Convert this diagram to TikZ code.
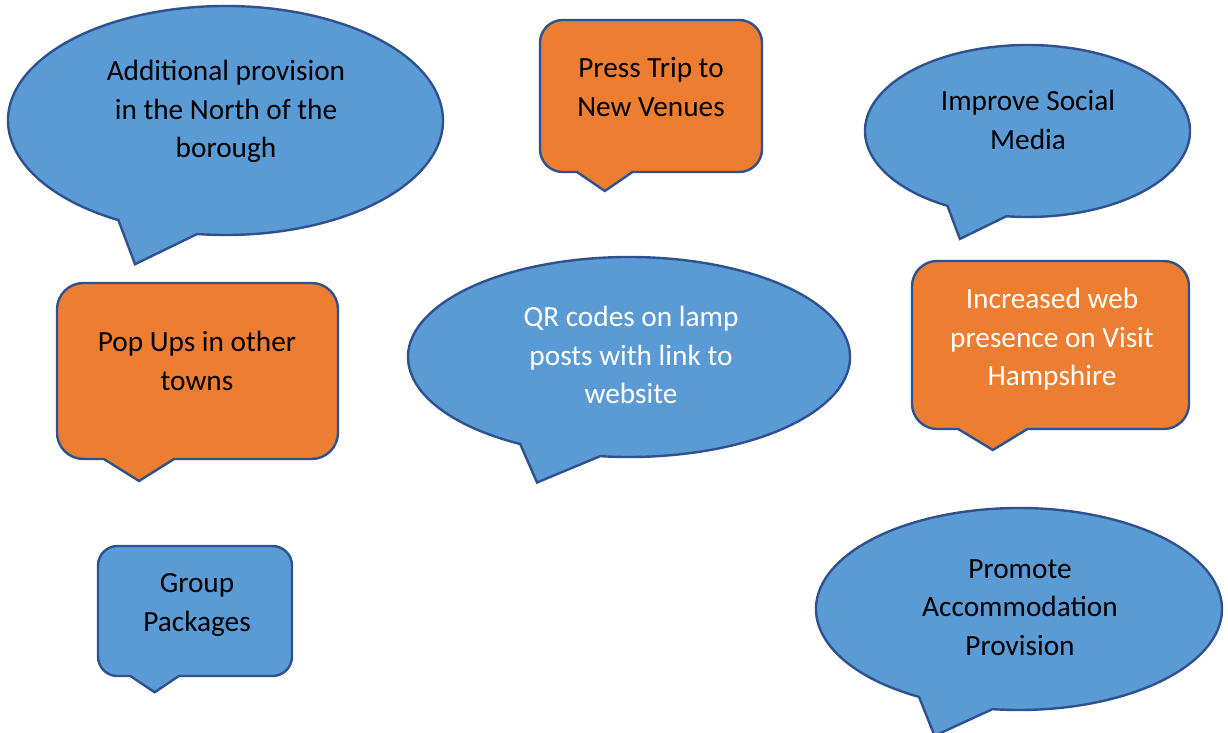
\documentclass[tikz,border=0pt]{standalone}
\usepackage{fontspec}
\setmainfont{Carlito}
\definecolor{cblue}{HTML}{5B9BD5}
\definecolor{corange}{HTML}{ED7D31}
\definecolor{cline}{HTML}{2F528F}
\newcommand\ellcallout[5]{%
  \draw[#5] (#1,#2) ++(119.5:#3 and #4)
    arc[start angle=119.5,end angle=457.5,x radius=#3,y radius=#4]
    -- ({#1-0.416*#3},{#2+1.255*#4}) -- cycle;}
\newcommand\rectcallout[5]{%
  \pgfmathsetmacro\rcw{#3-#1}%
  \pgfmathsetmacro\rch{#4-#2}%
  \pgfmathsetmacro\rcr{0.15*min(\rcw,\rch)}%
  \draw[#5] (#1,{#4-\rcr}) -- (#1,{#2+\rcr})
    arc[start angle=180,end angle=270,radius=\rcr] -- ({#3-\rcr},#2)
    arc[start angle=270,end angle=360,radius=\rcr] -- (#3,{#4-\rcr})
    arc[start angle=0,end angle=90,radius=\rcr]
    -- ({#1+5*\rcw/12},#4)
    -- ({(#1+#3)/2-0.208*\rcw},{(#2+#4)/2+0.625*\rch})
    -- ({#1+\rcw/6},#4) -- ({#1+\rcr},#4)
    arc[start angle=90,end angle=180,radius=\rcr] -- cycle;}
\tikzset{
  bluecall/.style={fill=cblue,draw=cline,line width=2.4pt},
  orangecall/.style={fill=corange,draw=cline,line width=2.4pt},
  txt/.style={align=center,inner sep=0pt,font=\fontsize{29.3}{38.5}\selectfont,text=black},
  wtxt/.style={txt,text=white}
}
\begin{document}
\begin{tikzpicture}[x=1pt,y=-1pt]
\useasboundingbox (0,0) rectangle (1228,733);
% shapes
\ellcallout{225.5}{120.5}{217.5}{114.5}{bluecall}
\rectcallout{540}{20}{762}{172}{orangecall}
\ellcallout{1027.5}{131}{162.5}{86}{bluecall}
\rectcallout{57}{283}{338}{459}{orangecall}
\ellcallout{629}{357}{221}{100}{bluecall}
\rectcallout{912}{261}{1189}{429}{orangecall}
\rectcallout{98}{546}{292}{676}{bluecall}
\ellcallout{1019}{609}{203}{101}{bluecall}
% texts
\node[txt] (north) at (226,111.5) {Additional provision\\in the North of the\\borough};
\node[txt] (press) at (651,87) {Press Trip to\\New Venues};
\node[txt] (social) at (1028,120) {Improve Social\\Media};
\node[txt] (popups) at (197,361) {Pop Ups in other\\towns};
\node[wtxt] (qr) at (631,355) {QR codes on lamp\\posts with link to\\website};
\node[wtxt] (web) at (1052,339.5) {Increased web\\presence on Visit\\Hampshire};
\node[txt] (group) at (197,605) {Group\\Packages};
\node[txt] (accom) at (1020,607.5) {Promote\\Accommodation\\Provision};
\end{tikzpicture}
\end{document}
